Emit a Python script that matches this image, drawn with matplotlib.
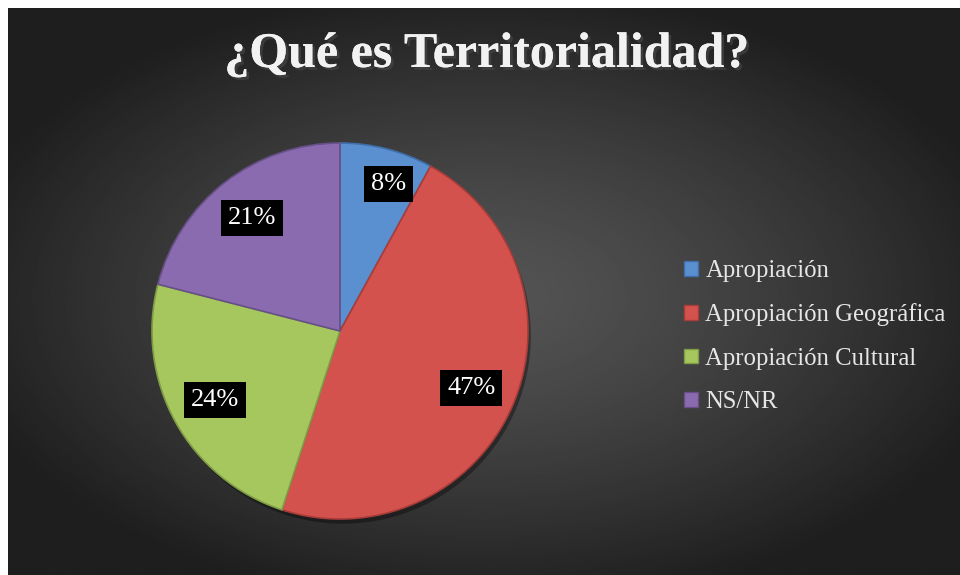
import matplotlib.pyplot as plt
import matplotlib.patheffects as pe
from matplotlib.patches import Patch, Rectangle
import numpy as np

# Datos del grafico
categorias = ['Apropiación', 'Apropiación Geográfica', 'Apropiación Cultural', 'NS/NR']
porcentajes = [8, 47, 24, 21]
colores = ['#5a8fd0', '#d4524e', '#a6c75e', '#8a6bb0']
bordes = ['#3f6ea8', '#a83c39', '#7f9c45', '#674f88']
titulo = '¿Qué es Territorialidad?'

W, H = 960, 575
fig = plt.figure(figsize=(W / 100, H / 100), dpi=100, facecolor='white')

# Fondo oscuro con degradado radial
fig.patches.append(Rectangle((8 / W, 0), 1, 1 - 8 / H, transform=fig.transFigure,
                             facecolor='#262626', edgecolor='none', zorder=-5))
bg = fig.add_axes([8 / W, 0, 1 - 8 / W, 1 - 8 / H])
yy, xx = np.mgrid[-1:1:300j, -1:1:500j]
rr = np.sqrt((xx * 0.95) ** 2 + (yy * 1.0) ** 2)
grad = np.clip(0.33 - 0.19 * rr ** 1.3, 0.12, 0.33)
bg.imshow(grad, cmap='gray', vmin=0, vmax=1, aspect='auto',
          extent=[0, 1, -0.02, 1], interpolation='bilinear')
bg.set_xlim(0, 1)
bg.set_ylim(0, 1)
bg.set_axis_off()

# Titulo
fig.text(487 / W, 1 - 55 / H, titulo, ha='center', va='center',
         fontsize=36, fontweight='bold', family='Liberation Serif', color='#f2f2f2',
         path_effects=[pe.withSimplePatchShadow(offset=(2, -2), alpha=0.6), pe.Normal()])

# Pastel
r = 188
cx, cy = 340, 331
ax = fig.add_axes([(cx - r) / W, 1 - (cy + r) / H, 2 * r / W, 2 * r / H])
ax.set_facecolor('none')

# sombra
ax.pie([1], radius=1.0, colors=['#000000'], center=(0.015, -0.025),
       wedgeprops=dict(alpha=0.35, linewidth=0))
wedges, texts, autotexts = ax.pie(
    porcentajes, startangle=90, counterclock=False, colors=colores,
    autopct='%1.0f%%', pctdistance=0.76,
    wedgeprops=dict(linewidth=1.2),
    textprops=dict(color='white', fontsize=19, family='Liberation Serif'))
for w, ec in zip(wedges, bordes):
    w.set_edgecolor(ec)
for t in autotexts:
    t.set_bbox(dict(facecolor='black', edgecolor='none', pad=5))
autotexts[0].set_position((0.26, 0.78))
ax.set_xlim(-1.0, 1.0)
ax.set_ylim(-1.0, 1.0)
ax.set_aspect('equal')
ax.set_axis_off()
for p in ax.patches:
    p.set_clip_on(False)

# Leyenda
handles = [Patch(facecolor=c, edgecolor=e, linewidth=1) for c, e in zip(colores, bordes)]
leg = fig.legend(handles, categorias, loc='upper left',
                 bbox_to_anchor=(662 / W, 1 - 238 / H), frameon=False,
                 prop=dict(family='Liberation Serif', size=17.8),
                 handlelength=0.55, handleheight=0.55, handletextpad=0.3,
                 labelspacing=0.86, labelcolor='#e6e6e6')

fig.savefig('out.png', dpi=100, facecolor='white')
